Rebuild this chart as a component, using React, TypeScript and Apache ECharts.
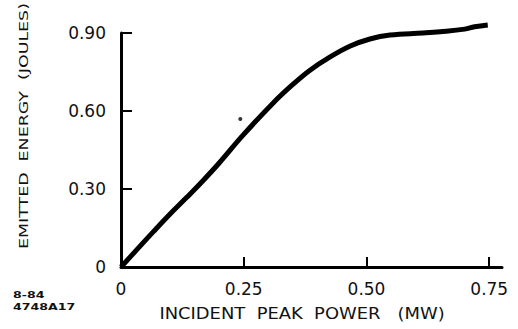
import React, { useEffect, useRef } from "react";
import * as echarts from "echarts";

const powerMW = [0, 0.03, 0.066, 0.1, 0.134, 0.165, 0.2, 0.249, 0.31, 0.35, 0.385, 0.426, 0.467, 0.507, 0.548, 0.615, 0.65, 0.7, 0.72, 0.747];
const energyJ = [0, 0.062, 0.136, 0.204, 0.268, 0.328, 0.4, 0.508, 0.631, 0.702, 0.757, 0.808, 0.85, 0.877, 0.892, 0.9, 0.905, 0.915, 0.924, 0.931];
const strayPoint = [[0.243, 0.569]];
const xTicks = [0, 0.25, 0.5, 0.75];
const yTicks = [0, 0.3, 0.6, 0.9];
const xTitle = "INCIDENT  PEAK  POWER   (MW)";
const yTitle = "EMITTED  ENERGY  (JOULES)";
const footnote = ["8-84", "4748A17"];

const FONT = '"DejaVu Sans", sans-serif';
const fmt = (v: number) => (v === 0 ? "0" : v.toFixed(2));

export default function App() {
  const ref = useRef<HTMLDivElement>(null);
  useEffect(() => {
    if (!ref.current) return;
    const chart = echarts.init(ref.current, null, { renderer: "svg" });
    chart.setOption({
      animation: false,
      backgroundColor: "#fff",
      grid: { left: 121, right: 16, top: 33, bottom: 62, containLabel: false },
      xAxis: {
        type: "value",
        min: 0,
        max: 0.776,
        splitLine: { show: false },
        axisLine: { show: true, lineStyle: { color: "#000", width: 3 } },
        axisTick: { show: true, inside: true, length: 10, customValues: xTicks, lineStyle: { color: "#000", width: 2 } },
        axisLabel: { customValues: xTicks, formatter: fmt, color: "#111", fontSize: 17, fontFamily: FONT, margin: 13 },
      },
      yAxis: {
        type: "value",
        min: 0,
        max: 0.9,
        interval: 0.3,
        splitLine: { show: false },
        axisLine: { show: true, lineStyle: { color: "#000", width: 3 } },
        axisTick: { show: true, inside: true, length: 11, customValues: yTicks, lineStyle: { color: "#000", width: 2 } },
        axisLabel: { customValues: yTicks, formatter: fmt, color: "#111", fontSize: 17, fontFamily: FONT, margin: 15 },
      },
      series: [
        {
          type: "line",
          data: powerMW.map((x, i) => [x, energyJ[i]]),
          smooth: 0.4,
          clip: false,
          showSymbol: false,
          lineStyle: { color: "#000", width: 5 },
        },
        {
          type: "scatter",
          data: strayPoint,
          symbolSize: 4,
          itemStyle: { color: "#000" },
        },
      ],
      graphic: [
        {
          type: "text",
          x: 302,
          y: 313,
          scaleX: 1.12,
          style: { text: xTitle, fill: "#111", font: `16px ${FONT}`, align: "center", verticalAlign: "middle", textAlign: "center", textVerticalAlign: "middle" },
        },
        {
          type: "text",
          x: 24,
          y: 126,
          rotation: Math.PI / 2,
          scaleX: 1.34,
          style: { text: yTitle, fill: "#111", font: `13px ${FONT}`, align: "center", verticalAlign: "middle", textAlign: "center", textVerticalAlign: "middle" },
        },
        {
          type: "text",
          x: 13,
          y: 295,
          scaleX: 1.4,
          style: { text: footnote[0], fill: "#111", font: `bold 9px ${FONT}`, align: "left", verticalAlign: "middle", textAlign: "left", textVerticalAlign: "middle" },
        },
        {
          type: "text",
          x: 13,
          y: 307,
          scaleX: 1.4,
          style: { text: footnote[1], fill: "#111", font: `bold 9px ${FONT}`, align: "left", verticalAlign: "middle", textAlign: "left", textVerticalAlign: "middle" },
        },
      ],
    });
    return () => chart.dispose();
  }, []);
  return <div ref={ref} style={{ width: 518, height: 329, position: "absolute", left: 0, top: 0 }} />;
}
